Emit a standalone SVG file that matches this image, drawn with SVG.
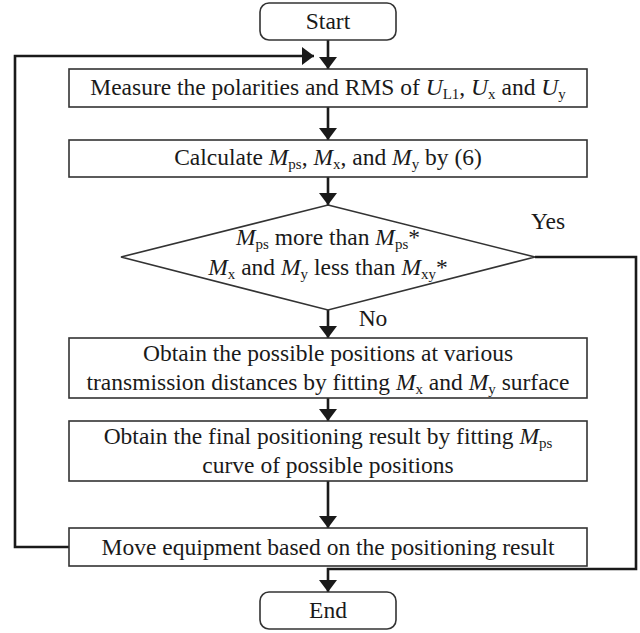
<svg xmlns="http://www.w3.org/2000/svg" width="640" height="633" viewBox="0 0 640 633">
<defs>
<marker id="ah" viewBox="0 0 12 18" refX="12" refY="9" markerWidth="12" markerHeight="18" markerUnits="userSpaceOnUse" orient="auto">
<path d="M0,0 L12,9 L0,18 Z" fill="#1a1a1a"/>
</marker>
<style>
.box{fill:#fff;stroke:#333;stroke-width:1.6}
.ln{fill:none;stroke:#1a1a1a;stroke-width:2.6}
text{font-size:23.5px;fill:#1a1a1a;text-anchor:middle}
.i{font-style:italic}
.s{font-size:15px;font-style:normal}
</style>
</defs>
<g font-family="'Liberation Serif', 'DejaVu Serif', serif">
<g id="connectors">
<line class="ln" x1="328" y1="40" x2="328" y2="69" marker-end="url(#ah)"/>
<polyline class="ln" points="69,547 15,547 15,56 314,56" marker-end="url(#ah)"/>
<line class="ln" x1="328" y1="107" x2="328" y2="140" marker-end="url(#ah)"/>
<line class="ln" x1="328" y1="177" x2="328" y2="205" marker-end="url(#ah)"/>
<line class="ln" x1="328" y1="310" x2="328" y2="338" marker-end="url(#ah)"/>
<line class="ln" x1="328" y1="398" x2="328" y2="421" marker-end="url(#ah)"/>
<line class="ln" x1="328" y1="481" x2="328" y2="528" marker-end="url(#ah)"/>
<polyline class="ln" points="535,257 636,257 636,569 328,569 328,592" marker-end="url(#ah)"/>
<text x="548" y="229">Yes</text>
<text x="373" y="326">No</text>
</g>
<g id="start">
<rect class="box" x="260" y="3" width="136" height="37" rx="9"/>
<text x="328" y="29">Start</text>
</g>
<g id="measure">
<rect class="box" x="69" y="69" width="518" height="38"/>
<text x="328" y="95">Measure the polarities and RMS of <tspan class="i">U</tspan><tspan class="s" baseline-shift="-4">L1</tspan>, <tspan class="i">U</tspan><tspan class="s" baseline-shift="-4">x</tspan> and <tspan class="i">U</tspan><tspan class="s" baseline-shift="-4">y</tspan></text>
</g>
<g id="calculate">
<rect class="box" x="69" y="140" width="518" height="37"/>
<text x="328" y="165">Calculate <tspan class="i">M</tspan><tspan class="s" baseline-shift="-4">ps</tspan>, <tspan class="i">M</tspan><tspan class="s" baseline-shift="-4">x</tspan>, and <tspan class="i">M</tspan><tspan class="s" baseline-shift="-4">y</tspan> by  (6)</text>
</g>
<g id="decision">
<polygon class="box" points="328,205 535,257 328,310 121,257"/>
<text x="328" y="245"><tspan class="i">M</tspan><tspan class="s" baseline-shift="-4">ps</tspan> more than <tspan class="i">M</tspan><tspan class="s" baseline-shift="-4">ps</tspan>*</text>
<text x="328" y="275"><tspan class="i">M</tspan><tspan class="s" baseline-shift="-4">x</tspan> and <tspan class="i">M</tspan><tspan class="s" baseline-shift="-4">y</tspan> less than <tspan class="i">M</tspan><tspan class="s" baseline-shift="-4">xy</tspan>*</text>
</g>
<g id="obtain-positions">
<rect class="box" x="69" y="338" width="518" height="60"/>
<text x="328" y="361">Obtain the possible positions at various</text>
<text x="328" y="390">transmission distances by fitting <tspan class="i">M</tspan><tspan class="s" baseline-shift="-4">x</tspan> and <tspan class="i">M</tspan><tspan class="s" baseline-shift="-4">y</tspan> surface</text>
</g>
<g id="obtain-final">
<rect class="box" x="69" y="421" width="518" height="60"/>
<text x="328" y="444">Obtain the final positioning result by fitting <tspan class="i">M</tspan><tspan class="s" baseline-shift="-4">ps</tspan></text>
<text x="328" y="473">curve of possible positions</text>
</g>
<g id="move">
<rect class="box" x="69" y="528" width="518" height="38"/>
<text x="328" y="555">Move equipment based on the positioning result</text>
</g>
<g id="end">
<rect class="box" x="260" y="592" width="136" height="37" rx="9"/>
<text x="328" y="618">End</text>
</g>
</g>
</svg>
